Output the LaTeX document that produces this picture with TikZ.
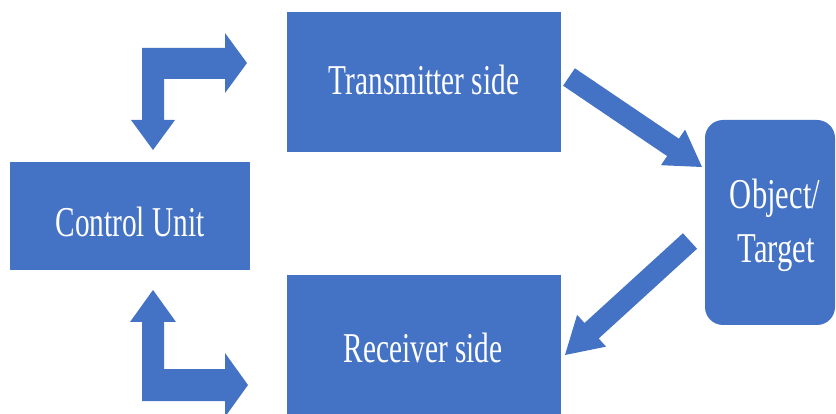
\documentclass[tikz,border=0pt]{standalone}
\usepackage{fontspec}
\newfontfamily\tnr[FakeStretch=0.69]{Liberation Serif}
\newfontfamily\tnrb[FakeStretch=0.72]{Liberation Serif}
\usetikzlibrary{calc}
\definecolor{offblue}{HTML}{4472C4}
\tikzset{
  blockbox/.style={fill=offblue, draw=none, inner sep=0pt},
  lbl/.style={text=white, font=\tnr\fontsize{42.5}{54}\selectfont, inner sep=0pt, anchor=base},
  lblob/.style={lbl, font=\tnrb\fontsize{42.5}{54}\selectfont},
  arrowfill/.style={fill=offblue, draw=none}
}
\newcommand\blkarrow[5]{%
  \coordinate (ba-c) at ($(#2)!#5!(#1)$);
  \fill[arrowfill] ($(#1)!#3!90:(#2)$) -- ($(ba-c)!#3!-90:(#1)$) -- ($(ba-c)!#4!-90:(#1)$) -- (#2)
    -- ($(ba-c)!#4!90:(#1)$) -- ($(ba-c)!#3!90:(#1)$) -- ($(#1)!#3!-90:(#2)$) -- cycle;}
\begin{document}
\begin{tikzpicture}[x=1pt,y=-1pt]
\useasboundingbox (0,0) rectangle (836,414);
\begin{scope}
\clip (0,0) rectangle (836,414);
% boxes
\fill[blockbox] (287,12) rectangle (561,152);
\coordinate (tx) at (424,82);
\fill[blockbox] (10,162) rectangle (250,270);
\coordinate (cu) at (130,216);
\fill[blockbox] (287,275) rectangle (561,430);
\coordinate (rx) at (424,348);
\fill[blockbox, rounded corners=18pt] (705,120) rectangle (835,325);
\coordinate (ob) at (770,222);
% labels
\node[lbl] (txl) at (424,95) {Transmitter side};
\node[lbl] (cul) at (130,237) {Control Unit};
\node[lbl] (rxl) at (423,362) {Receiver side};
\node[lblob] (obl1) at (775,209) {Object/};
\node[lblob] (obl2) at (776,263) {Target};
% L-shaped arrows
\fill[arrowfill] (142,48) -- (225,48) -- (225,33) -- (247,63) -- (225,93) -- (225,79)
  -- (164,79) -- (164,120) -- (175,120) -- (153,150) -- (131,120) -- (142,120) -- cycle;
\fill[arrowfill] (153,290) -- (176,322) -- (164,322) -- (164,369) -- (225,369) -- (225,353)
  -- (248,385) -- (225,417) -- (225,401) -- (142,401) -- (142,322) -- (130,322) -- cycle;
% diagonal arrows
\coordinate (a1t) at (569,77);
\coordinate (a1h) at (702,167);
\blkarrow{a1t}{a1h}{10.5pt}{21.5pt}{35pt}
\coordinate (a2t) at (690,241);
\coordinate (a2h) at (565,355);
\blkarrow{a2t}{a2h}{10.5pt}{21.5pt}{36pt}
\end{scope}
\end{tikzpicture}
\end{document}
